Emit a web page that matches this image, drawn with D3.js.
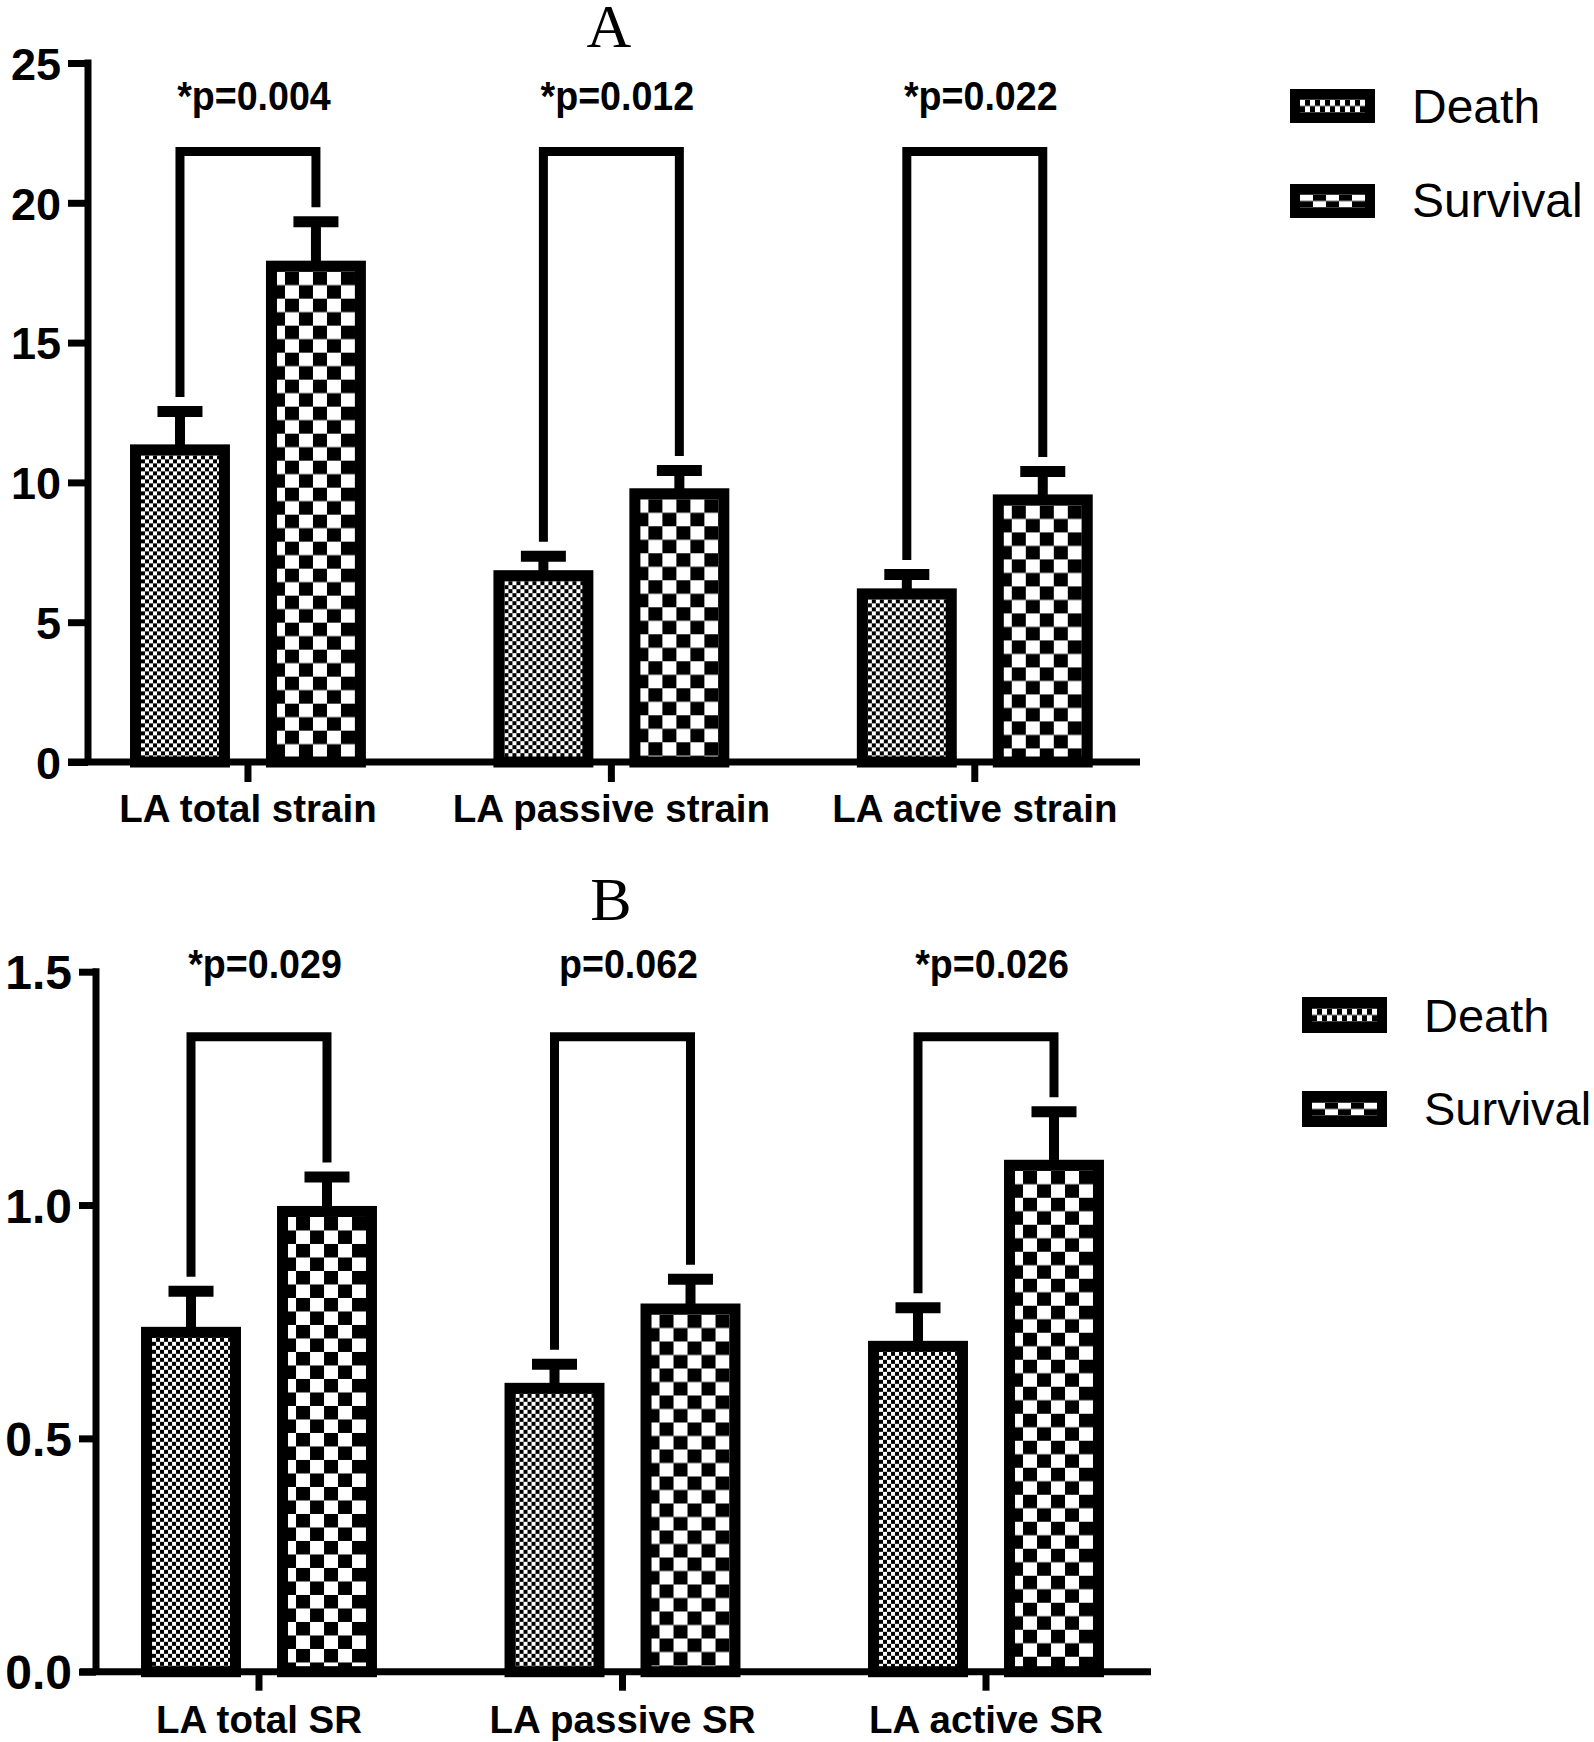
<!DOCTYPE html>
<html>
<head>
<meta charset="utf-8">
<script src="https://cdn.jsdelivr.net/npm/d3@7"></script>
<style>
  html, body { margin: 0; padding: 0; background: #fff; }
  svg { display: block; }
</style>
</head>
<body>
<svg id="chart" width="1594" height="1742"></svg>
<script>
// ---------------- DATA ----------------
const seriesNames = ["Death", "Survival"];

const categoriesA = ["LA total strain", "LA passive strain", "LA active strain"];
const deathA = [11.36, 6.86, 6.21];
const deathErrA = [12.54, 7.36, 6.71];
const survivalA = [17.93, 9.79, 9.57];
const survivalErrA = [19.32, 10.43, 10.39];
const pLabelsA = ["*p=0.004", "*p=0.012", "*p=0.022"];
const bracketLevelA = 22;
const yTicksA = [0, 5, 10, 15, 20, 25];
const yLabelsA = ["0", "5", "10", "15", "20", "25"];

const categoriesB = ["LA total SR", "LA passive SR", "LA active SR"];
const deathB = [0.739, 0.619, 0.709];
const deathErrB = [0.815, 0.659, 0.780];
const survivalB = [0.998, 0.789, 1.097];
const survivalErrB = [1.060, 0.841, 1.200];
const pLabelsB = ["*p=0.029", "p=0.062", "*p=0.026"];
const bracketLevelB = 1.37;
const yTicksB = [0, 0.5, 1.0, 1.5];
const yLabelsB = ["0.0", "0.5", "1.0", "1.5"];

// ---------------- LAYOUT ----------------
const svg = d3.select("#chart");
const defs = svg.append("defs");

const SANS = "'Liberation Sans', Arial, Helvetica, sans-serif";
const SERIF = "'Liberation Serif', 'Times New Roman', serif";

const BAR_SW = 11;
const STEM_SW = 10;
const CAP_SW = 11;
const CAP_W = 45;
const BRACKET_SW = 9;
const AXIS_SW = 7;

function checker(id, cw, ch, ox, oy) {
  const p = defs.append("pattern")
    .attr("id", id)
    .attr("patternUnits", "userSpaceOnUse")
    .attr("x", ox).attr("y", oy)
    .attr("width", cw * 2).attr("height", ch * 2);
  p.append("rect").attr("width", cw * 2).attr("height", ch * 2).attr("fill", "#fff");
  p.append("rect").attr("x", cw).attr("y", 0).attr("width", cw).attr("height", ch).attr("fill", "#000");
  p.append("rect").attr("x", 0).attr("y", ch).attr("width", cw).attr("height", ch).attr("fill", "#000");
  return "url(#" + id + ")";
}

function drawPanel(cfg) {
  const g = svg.append("g");
  const y = d3.scaleLinear().domain(cfg.yDomain).range([cfg.yBottom, cfg.yTop]);
  const x = d3.scaleBand().domain(cfg.categories).range([cfg.bandStart, cfg.bandEnd]).paddingInner(0).paddingOuter(0);
  const xs = d3.scaleBand().domain(seriesNames).range([0, x.bandwidth()]).paddingInner(0.265).paddingOuter(0.469);

  // Title
  g.append("text").attr("x", cfg.titleX).attr("y", cfg.titleY)
    .attr("text-anchor", "middle").attr("font-family", SERIF).attr("font-size", 62)
    .text(cfg.title);

  // Y axis
  const yAxis = d3.axisLeft(y).tickValues(cfg.yTicks).tickFormat((d, i) => cfg.yLabels[i])
    .tickSize(cfg.yTickLen).tickSizeOuter(0).tickPadding(7);
  const ya = g.append("g").attr("transform", `translate(${cfg.yAxisX},0)`).call(yAxis);
  ya.select(".domain").remove();
  ya.selectAll(".tick line").attr("stroke", "#000").attr("stroke-width", AXIS_SW);
  ya.selectAll(".tick text").attr("font-family", SANS).attr("font-weight", "bold")
    .attr("font-size", cfg.yTickFont).attr("fill", "#000").attr("dy", "0.36em");
  g.append("line").attr("x1", cfg.yAxisX).attr("x2", cfg.yAxisX)
    .attr("y1", y(cfg.yDomain[1]) - AXIS_SW / 2).attr("y2", y(0))
    .attr("stroke", "#000").attr("stroke-width", AXIS_SW);

  // X axis
  const xAxis = d3.axisBottom(x).tickSize(cfg.xTickLen).tickSizeOuter(0);
  const xa = g.append("g").attr("transform", `translate(0,${y(0)})`).call(xAxis);
  xa.select(".domain").remove();
  xa.selectAll(".tick line").attr("stroke", "#000").attr("stroke-width", AXIS_SW);
  xa.selectAll(".tick text").attr("font-family", SANS).attr("font-weight", "bold")
    .attr("font-size", 38.5).attr("fill", "#000").attr("y", cfg.catLabelY - y(0)).attr("dy", 0);
  g.append("line").attr("x1", cfg.xAxisStart).attr("x2", cfg.xAxisEnd)
    .attr("y1", y(0)).attr("y2", y(0)).attr("stroke", "#000").attr("stroke-width", AXIS_SW);

  // Bars
  const rows = cfg.categories.map((c, i) => ({
    cat: c, i,
    vals: [
      { s: "Death", v: cfg.death[i], e: cfg.deathErr[i] },
      { s: "Survival", v: cfg.survival[i], e: cfg.survivalErr[i] }
    ],
    p: cfg.pLabels[i]
  }));

  rows.forEach(r => {
    r.vals.forEach(d => {
      const bx = x(r.cat) + xs(d.s);
      const bw = xs.bandwidth();
      const cx = bx + bw / 2;
      d.cx = cx;
      const pid = `pat-${cfg.title}-${r.i}-${d.s}`;
      const fill = d.s === "Death"
        ? checker(pid, 4, 4, bx + BAR_SW, y(d.v) + BAR_SW)
        : checker(pid, 14, 13.5, bx + BAR_SW - 6, y(d.v) + BAR_SW);
      g.append("line").attr("x1", cx).attr("x2", cx).attr("y1", y(d.v) + 2).attr("y2", y(d.e))
        .attr("stroke", "#000").attr("stroke-width", STEM_SW);
      g.append("line").attr("x1", cx - CAP_W / 2).attr("x2", cx + CAP_W / 2).attr("y1", y(d.e)).attr("y2", y(d.e))
        .attr("stroke", "#000").attr("stroke-width", CAP_SW);
      g.append("rect")
        .attr("x", bx + BAR_SW / 2).attr("y", y(d.v) + BAR_SW / 2)
        .attr("width", bw - BAR_SW).attr("height", y(0) - y(d.v) - BAR_SW / 2)
        .attr("fill", fill).attr("stroke", "#000").attr("stroke-width", BAR_SW);
    });
    const topY = y(cfg.bracketLevel) + BRACKET_SW / 2;
    const leftEnd = y(r.vals[0].e) - CAP_SW / 2 - 9;
    const rightEnd = y(r.vals[1].e) - CAP_SW / 2 - 9;
    g.append("path")
      .attr("d", `M${r.vals[0].cx},${leftEnd}V${topY}H${r.vals[1].cx}V${rightEnd}`)
      .attr("fill", "none").attr("stroke", "#000").attr("stroke-width", BRACKET_SW)
      .attr("stroke-linejoin", "miter").attr("stroke-linecap", "butt");
    const t = g.append("text")
      .attr("x", x(r.cat) + x.bandwidth() / 2 + 6).attr("y", cfg.pLabelY)
      .attr("text-anchor", "middle").attr("font-family", SANS).attr("font-weight", "bold")
      .attr("font-size", 40).text(r.p);
    const L = t.node().getComputedTextLength();
    t.attr("textLength", L * 0.94).attr("lengthAdjust", "spacingAndGlyphs");
  });

  // Legend
  seriesNames.forEach((s, k) => {
    const lx = cfg.legend.x, ly = cfg.legend.ys[k];
    g.append("rect").attr("x", lx).attr("y", ly).attr("width", 85).attr("height", cfg.legend.h).attr("fill", "#000");
    const pid = `leg-${cfg.title}-${s}`;
    const wy = ly + cfg.legend.h / 2 - 6.5;
    const fill = s === "Death" ? checker(pid, 5, 6.5, lx + 10, wy) : checker(pid, 13, 6.5, lx + 10, wy);
    g.append("rect").attr("x", lx + 10).attr("y", wy).attr("width", 65).attr("height", 13).attr("fill", fill);
    g.append("text").attr("x", cfg.legend.textX).attr("y", cfg.legend.baselines[k])
      .attr("font-family", SANS).attr("font-size", cfg.legend.font).attr("fill", "#000").text(s);
  });
}

drawPanel({
  title: "A", titleX: 609, titleY: 47,
  categories: categoriesA, death: deathA, deathErr: deathErrA,
  survival: survivalA, survivalErr: survivalErrA, pLabels: pLabelsA,
  bracketLevel: bracketLevelA, yTicks: yTicksA, yLabels: yLabelsA,
  yDomain: [0, 25], yTop: 63, yBottom: 762,
  yAxisX: 88, yTickLen: 20, xTickLen: 20, yTickFont: 45,
  xAxisStart: 68, xAxisEnd: 1140, bandStart: 66.25, bandEnd: 1156.5,
  pLabelY: 110, catLabelY: 822,
  legend: { x: 1290, ys: [89, 184], h: 34, textX: 1412, baselines: [123, 217], font: 48 }
});

drawPanel({
  title: "B", titleX: 611, titleY: 920,
  categories: categoriesB, death: deathB, deathErr: deathErrB,
  survival: survivalB, survivalErr: survivalErrB, pLabels: pLabelsB,
  bracketLevel: bracketLevelB, yTicks: yTicksB, yLabels: yLabelsB,
  yDomain: [0, 1.5], yTop: 971.7, yBottom: 1671.7,
  yAxisX: 96, yTickLen: 17, xTickLen: 19, yTickFont: 48,
  xAxisStart: 80, xAxisEnd: 1151, bandStart: 77.25, bandEnd: 1167.75,
  pLabelY: 978, catLabelY: 1733,
  legend: { x: 1302, ys: [997, 1091], h: 36, textX: 1424, baselines: [1032, 1125], font: 47 }
});
</script>
</body>
</html>
